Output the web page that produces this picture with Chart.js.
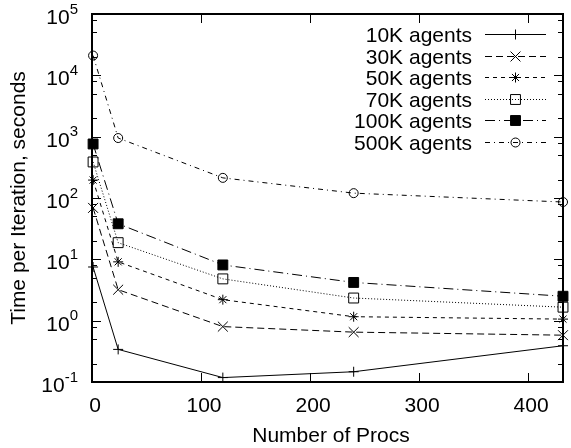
<!DOCTYPE html>
<html>
<head>
<meta charset="utf-8">
<script src="https://cdn.jsdelivr.net/npm/chart.js@4"></script>
<style>
  html, body { margin: 0; padding: 0; background: #fff; }
  #chart { display: block; }
</style>
</head>
<body>
<canvas id="chart" width="571" height="448"></canvas>
<script>
// ----------------------------------------------------------
// data
const procs = [1, 24, 120, 240, 432];
const agents10k = [7.5, 0.34, 0.118, 0.147, 0.39];
const agents30k = [69, 3.2, 0.8, 0.65, 0.58];
const agents50k = [196, 9.1, 2.2, 1.16, 1.06];
const agents70k = [387, 18.7, 4.8, 2.34, 1.66];
const agents100k = [760, 38, 8.1, 4.2, 2.5];
const agents500k = [21000, 950, 213, 120, 86];

const seriesNames = ["10K agents", "30K agents", "50K agents", "70K agents", "100K agents", "500K agents"];
const xTicks = [0, 100, 200, 300, 400];
const yExponents = [-1, 0, 1, 2, 3, 4, 5];
const yMinorSteps = [2, 5, 8];
const xTitle = "Number of Procs";
const yTitle = "Time per Iteration, seconds";

// ----------------------------------------------------------
// line / marker look for every series (same order as the names)
const seriesLook = [
  { dash: [], point: "cross", radius: 5, fill: "rgba(0,0,0,0)" },
  { dash: [7, 4], point: "crossRot", radius: 7, fill: "rgba(0,0,0,0)" },
  { dash: [4, 4], point: "star", radius: 5, fill: "rgba(0,0,0,0)" },
  { dash: [1, 2], point: "rect", radius: 7, fill: "rgba(0,0,0,0)" },
  { dash: [10, 4, 1, 4], point: "rect", radius: 7, fill: "#000" },
  { dash: [5, 4, 1, 4], point: "circle", radius: 4.5, fill: "rgba(0,0,0,0)" },
];

const FONT = '"Liberation Sans", Arial, Helvetica, sans-serif';

// ----------------------------------------------------------
function makeDataset(name, values, look) {
  return {
    label: name,
    data: procs.map((p, i) => ({ x: p, y: values[i] })),
    borderColor: "#000",
    borderWidth: 1,
    borderDash: look.dash,
    pointStyle: look.point,
    pointRadius: look.radius,
    pointBorderWidth: 1,
    pointBorderColor: "#000",
    pointBackgroundColor: look.fill,
    tension: 0,
    clip: false,
  };
}

const allValues = [agents10k, agents30k, agents50k, agents70k, agents100k, agents500k];
const datasets = allValues.map((vals, i) => makeDataset(seriesNames[i], vals, seriesLook[i]));

// ----------------------------------------------------------
// frame, inward ticks, tick labels, titles and key (gnuplot style)
const gnuplotFrame = {
  id: "gnuplotFrame",
  beforeDatasetsDraw(chart) {
    const ctx = chart.ctx;
    const area = chart.chartArea;
    const xs = chart.scales.x;
    const ys = chart.scales.y;
    ctx.save();
    ctx.strokeStyle = "#000";
    ctx.lineWidth = 1;
    ctx.setLineDash([]);

    // x ticks, bottom and top
    xTicks.forEach((v) => {
      const px = Math.round(xs.getPixelForValue(v)) + 0.5;
      ctx.beginPath();
      ctx.moveTo(px, area.bottom);
      ctx.lineTo(px, area.bottom - 9);
      ctx.moveTo(px, area.top);
      ctx.lineTo(px, area.top + 9);
      ctx.stroke();
    });

    // y ticks, major and minor, left and right
    yExponents.forEach((e) => {
      const py = Math.round(ys.getPixelForValue(Math.pow(10, e))) + 0.5;
      ctx.beginPath();
      ctx.moveTo(area.left, py);
      ctx.lineTo(area.left + 9, py);
      ctx.moveTo(area.right, py);
      ctx.lineTo(area.right - 9, py);
      ctx.stroke();
      if (e < 5) {
        yMinorSteps.forEach((m) => {
          const my = Math.round(ys.getPixelForValue(m * Math.pow(10, e))) + 0.5;
          ctx.beginPath();
          ctx.moveTo(area.left, my);
          ctx.lineTo(area.left + 5, my);
          ctx.moveTo(area.right, my);
          ctx.lineTo(area.right - 5, my);
          ctx.stroke();
        });
      }
    });

    // border
    ctx.lineWidth = 2;
    ctx.strokeRect(area.left, area.top, area.right - area.left, area.bottom - area.top);
    ctx.restore();
  },
  afterDraw(chart) {
    const ctx = chart.ctx;
    const area = chart.chartArea;
    const xs = chart.scales.x;
    const ys = chart.scales.y;
    ctx.save();
    ctx.fillStyle = "#000";

    // x tick labels
    ctx.font = "21px " + FONT;
    ctx.textAlign = "center";
    ctx.textBaseline = "alphabetic";
    xTicks.forEach((v) => {
      ctx.fillText(String(v), xs.getPixelForValue(v) + 3, area.bottom + 30);
    });

    // y tick labels: 10 with a raised exponent, right aligned
    const labelRight = 78;
    yExponents.forEach((e) => {
      const py = ys.getPixelForValue(Math.pow(10, e));
      const exp = String(e);
      ctx.font = "15px " + FONT;
      ctx.textAlign = "right";
      const expW = ctx.measureText(exp).width;
      ctx.fillText(exp, labelRight, py - 0.5);
      ctx.font = "21px " + FONT;
      ctx.fillText("10", labelRight - expW, py + 10);
    });

    // axis titles
    ctx.font = "21px " + FONT;
    ctx.textAlign = "center";
    ctx.fillText(xTitle, 331, 442);
    ctx.save();
    ctx.translate(25, 198);
    ctx.rotate(-Math.PI / 2);
    ctx.fillText(yTitle, 0, 0);
    ctx.restore();

    // key
    const keyTextRight = 472;
    const sampleLeft = 485;
    const sampleRight = 546;
    const rowTop = 34;
    const rowStep = 21.6;
    chart.data.datasets.forEach((ds, i) => {
      const y = Math.round(rowTop + i * rowStep) + 0.5;
      ctx.font = "21px " + FONT;
      ctx.textAlign = "right";
      ctx.fillStyle = "#000";
      ctx.fillText(ds.label, keyTextRight, y + 7);

      ctx.strokeStyle = "#000";
      ctx.lineWidth = 1;
      ctx.setLineDash(ds.borderDash);
      ctx.beginPath();
      ctx.moveTo(sampleLeft, y);
      ctx.lineTo(sampleRight, y);
      ctx.stroke();
      ctx.setLineDash([]);

      const mx = (sampleLeft + sampleRight) / 2;
      ctx.fillStyle = ds.pointBackgroundColor;
      if (ds.pointBackgroundColor === "rgba(0,0,0,0)") {
        // clear the line under an open marker? gnuplot keeps it, so leave it
      }
      Chart.helpers.drawPoint(ctx, {
        pointStyle: ds.pointStyle,
        radius: ds.pointRadius,
        rotation: 0,
        borderWidth: 1,
      }, mx, y);
    });
    ctx.restore();
  },
};

// ----------------------------------------------------------
const theChart = new Chart(document.getElementById("chart").getContext("2d"), {
  type: "line",
  data: { datasets: datasets },
  options: {
    responsive: false,
    animation: false,
    devicePixelRatio: 1,
    events: [],
    layout: { padding: { left: 92, right: 1, top: 14, bottom: 66 } },
    scales: {
      x: { type: "linear", min: 0, max: 432, display: false },
      y: { type: "logarithmic", min: 0.1, max: 100000, display: false },
    },
    plugins: {
      legend: { display: false },
      tooltip: { enabled: false },
    },
  },
  plugins: [gnuplotFrame],
});
</script>
</body>
</html>
